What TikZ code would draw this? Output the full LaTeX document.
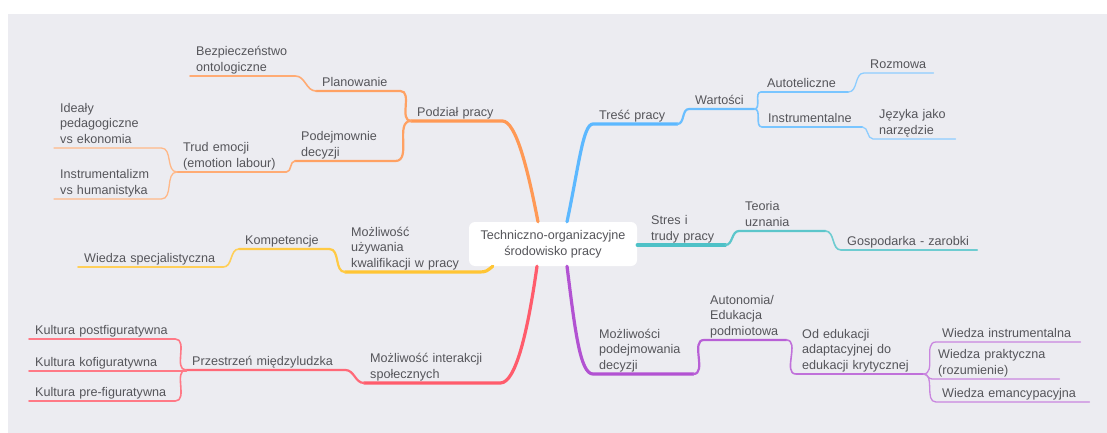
\documentclass[tikz,border=0pt]{standalone}
\usepackage{fontspec}
\setmainfont{Liberation Sans}
\usepackage{tikz}
\usetikzlibrary{calc}
\usepackage{xcolor}

\definecolor{canvas}{RGB}{236,236,241}
\definecolor{ink}{RGB}{85,85,90}
\definecolor{brOrange}{RGB}{255,153,85}
\definecolor{brBlue}{RGB}{92,184,255}
\definecolor{brTeal}{RGB}{78,193,199}
\definecolor{brYellow}{RGB}{255,197,52}
\definecolor{brRed}{RGB}{255,92,108}
\definecolor{brPurple}{RGB}{178,82,210}

\begin{document}
\begin{tikzpicture}[x=1pt,y=-1pt,line cap=round,line join=round,
  every node/.style={text=ink,font=\fontsize{12.6}{15.5}\selectfont},
  topic/.style={anchor=south west,inner xsep=6pt,inner ysep=0pt,align=left,
    text width=#1,execute at end node=\strut},
  root/.style={fill=white,rounded corners=6pt,minimum width=168pt,
    minimum height=44pt,inner sep=0pt,align=center},
  lv1/.style={line width=3.2pt,draw=#1},
  lv2/.style={line width=2.2pt,draw=#1!92},
  lv3/.style={line width=1.6pt,draw=#1!82},
  lv4/.style={line width=1.3pt,draw=#1!70}]

  % canvas
  \useasboundingbox (0,0) rectangle (1107,433);
  \fill[white] (0,0) rectangle (1107,433);
  \fill[canvas] (8,14) rectangle (1107,433);

  \node[root] (root) at (553,244) {Techniczno-organizacyjne\\środowisko pracy};

  % --- left side: orange ---
  \node[topic=79pt] (podz) at (411,121) {Podział pracy};
  \node[topic=72pt] (plan) at (316,91) {Planowanie};
  \node[topic=93pt] (bezp) at (190,76) {Bezpieczeństwo\\ontologiczne};
  \node[topic=88pt] (podej) at (295,161) {Podejmownie\\decyzji};
  \node[topic=97pt] (trud) at (177,172) {Trud emocji\\(emotion labour)};
  \node[topic=95pt] (idealy) at (54,148) {Ideały\\pedagogiczne\\vs ekonomia};
  \node[topic=95pt] (instr) at (54,199) {Instrumentalizm\\vs humanistyka};

  \draw[lv1=brOrange] ([xshift=-15pt]root.north) .. controls (528,170) and (516,121) .. (podz.south east) -- (podz.south west);
  \draw[lv2=brOrange] (podz.south west) to[out=180,in=0] (plan.south east) -- (plan.south west);
  \draw[lv3=brOrange] (plan.south west) to[out=180,in=0] (bezp.south east) -- (bezp.south west);
  \draw[lv2=brOrange] (podz.south west) to[out=180,in=0] (podej.south east) -- (podej.south west);
  \draw[lv3=brOrange] (podej.south west) to[out=180,in=0] (trud.south east) -- (trud.south west);
  \draw[lv4=brOrange] (trud.south west) to[out=180,in=0] (idealy.south east) -- (idealy.south west);
  \draw[lv4=brOrange] (trud.south west) to[out=180,in=0] (instr.south east) -- (instr.south west);

  % --- left side: yellow ---
  \node[topic=122pt] (kwal) at (345,272) {Możliwość\\używania\\kwalifikacji w pracy};
  \node[topic=78pt] (komp) at (239,249) {Kompetencje};
  \node[topic=133pt] (wspec) at (78,267) {Wiedza specjalistyczna};

  \draw[lv1=brYellow] ([xshift=24pt]root.south west) .. controls (487,271) and (486,272) .. (kwal.south east) -- (kwal.south west);
  \draw[lv2=brYellow] (kwal.south west) to[out=180,in=0] (komp.south east) -- (komp.south west);
  \draw[lv3=brYellow] (komp.south west) to[out=180,in=0] (wspec.south east) -- (wspec.south west);

  % --- left side: red ---
  \node[topic=124pt] (inter) at (364,383) {Możliwość interakcji\\społecznych};
  \node[topic=147pt] (przes) at (186,370) {Przestrzeń międzyludzka};
  \node[topic=134pt] (kpost) at (29,339) {Kultura postfiguratywna};
  \node[topic=145pt] (kkof) at (29,371) {Kultura kofiguratywna};
  \node[topic=134pt] (kpre) at (29,401) {Kultura pre-figuratywna};

  \draw[lv1=brRed] ([xshift=-16pt]root.south) .. controls (528,330) and (516,383) .. (inter.south east) -- (inter.south west);
  \draw[lv2=brRed] (inter.south west) to[out=180,in=0] (przes.south east) -- (przes.south west);
  \draw[lv3=brRed] (przes.south west) to[out=180,in=0] (kpost.south east) -- (kpost.south west);
  \draw[lv3=brRed] (przes.south west) to[out=180,in=0] (kkof.south east) -- (kkof.south west);
  \draw[lv3=brRed] (przes.south west) to[out=180,in=0] (kpre.south east) -- (kpre.south west);

  % --- right side: blue ---
  \node[topic=72pt] (tresc) at (593,124) {Treść pracy};
  \node[topic=53pt] (wart) at (689,109) {Wartości};
  \node[topic=75pt] (auto) at (761,92) {Autoteliczne};
  \node[topic=88pt] (instrum) at (762,127) {Instrumentalne};
  \node[topic=57pt] (rozm) at (864,73) {Rozmowa};
  \node[topic=70pt] (jezyk) at (873,139) {Języka jako\\narzędzie};

  \draw[lv1=brBlue] ([xshift=14pt]root.north) .. controls (579,165) and (583,124) .. (tresc.south west) -- (tresc.south east);
  \draw[lv2=brBlue] (tresc.south east) to[out=0,in=180] (wart.south west) -- (wart.south east);
  \draw[lv3=brBlue] (wart.south east) to[out=0,in=180] (auto.south west) -- (auto.south east);
  \draw[lv3=brBlue] (wart.south east) to[out=0,in=180] (instrum.south west) -- (instrum.south east);
  \draw[lv4=brBlue] (auto.south east) to[out=0,in=180] (rozm.south west) -- (rozm.south east);
  \draw[lv4=brBlue] (instrum.south east) to[out=0,in=180] (jezyk.south west) -- (jezyk.south east);

  % --- right side: teal ---
  \node[topic=68pt] (stres) at (645,245) {Stres i\\trudy pracy};
  \node[topic=74pt] (teoria) at (739,231) {Teoria\\uznania};
  \node[topic=124pt] (gosp) at (841,250) {Gospodarka - zarobki};

  \draw[lv1=brTeal] (root.east |- stres.south west) -- (stres.south west) -- (stres.south east);
  \draw[lv2=brTeal] (stres.south east) to[out=0,in=180] (teoria.south west) -- (teoria.south east);
  \draw[lv3=brTeal] (teoria.south east) to[out=0,in=180] (gosp.south west) -- (gosp.south east);

  % --- right side: purple ---
  \node[topic=88pt] (decyz) at (593,374) {Możliwości\\podejmowania\\decyzji};
  \node[topic=70pt] (auton) at (704,340) {Autonomia/\\Edukacja\\podmiotowa};
  \node[topic=115pt] (odedu) at (796,374) {Od edukacji\\adaptacyjnej do\\edukacji krytycznej};
  \node[topic=132pt] (winstr) at (936,342) {Wiedza instrumentalna};
  \node[topic=115pt] (wprak) at (932,379) {Wiedza praktyczna\\(rozumienie)};
  \node[topic=141pt] (weman) at (936,402) {Wiedza emancypacyjna};

  \draw[lv1=brPurple] ([xshift=14pt]root.south) .. controls (575,330) and (580,374) .. (decyz.south west) -- (decyz.south east);
  \draw[lv2=brPurple] (decyz.south east) to[out=0,in=180] (auton.south west) -- (auton.south east);
  \draw[lv3=brPurple] (auton.south east) to[out=0,in=180] (odedu.south west) -- (odedu.south east);
  \draw[lv4=brPurple] (odedu.south east) to[out=0,in=180] (winstr.south west) -- (winstr.south east);
  \draw[lv4=brPurple] (odedu.south east) to[out=0,in=180] (wprak.south west) -- (wprak.south east);
  \draw[lv4=brPurple] (odedu.south east) to[out=0,in=180] (weman.south west) -- (weman.south east);
\end{tikzpicture}
\end{document}
